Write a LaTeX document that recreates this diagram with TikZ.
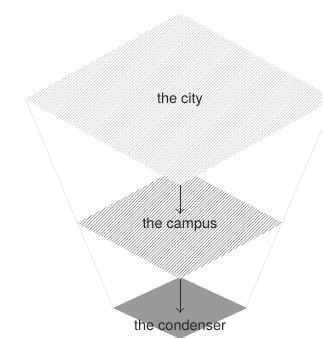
\documentclass[tikz,border=0pt]{standalone}
\usepackage{fontspec}
\setmainfont{TeX Gyre Heros}
\usetikzlibrary{shapes.geometric,patterns.meta,arrows.meta}
\begin{document}
\begin{tikzpicture}[x=1pt,y=-1pt,
  layer/.style={diamond, inner sep=0pt, draw=none, preaction={fill=white}},
  lbl/.style={font=\fontsize{14.5}{16}\selectfont, text=black!85},
  guide/.style={draw=black!15, line width=0.4pt},
  flow/.style={draw=black!85, line width=0.6pt, -{To[length=5pt,width=9pt]}}]
\useasboundingbox (0,0) rectangle (322,338);
\clip (0,0) rectangle (322,338);
% guide lines
\coordinate (tl) at (25,98);
\coordinate (tr) at (335,99);
\coordinate (bl) at (113,308);
\coordinate (br) at (246,307);
\draw[guide] (tl) -- (bl);
\draw[guide] (tr) -- (br);
% bottom layer
\node[layer, fill=black!40, minimum width=134pt, minimum height=62pt] (cond) at (180,308) {};
\node[lbl] (condlbl) at (180,325) {the condenser};
% middle layer
\node[layer, minimum width=206pt, minimum height=112pt,
  pattern={Lines[angle=45,distance=2.2pt,line width=0.6pt]}, pattern color=black!45] (campus) at (180,223) {};
\node[lbl] (campuslbl) at (180,225) {the campus};
% top layer
\node[layer, minimum width=310pt, minimum height=172pt,
  pattern={Lines[angle=45,distance=2.2pt,line width=0.5pt]}, pattern color=black!22] (city) at (180,99) {};
\node[lbl] (citylbl) at (180,100) {the city};
% arrows
\coordinate (a1) at (180,214);
\coordinate (a2) at (180,313);
\draw[flow] (city.south) -- (a1);
\draw[flow] (campus.south) -- (a2);
\end{tikzpicture}
\end{document}
